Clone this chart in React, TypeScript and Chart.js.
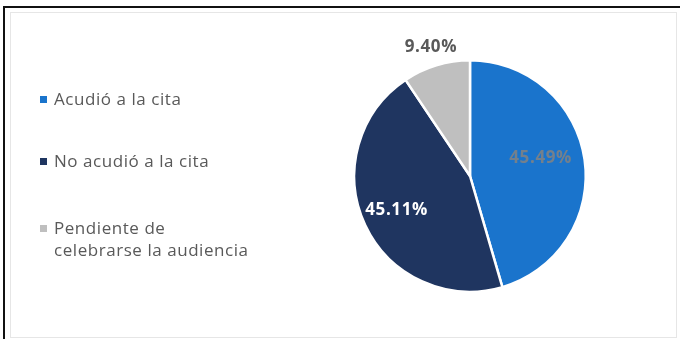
import React, { useEffect, useRef } from "react";
import { Chart, registerables } from "chart.js";

Chart.register(...registerables);

const categories = ["Acudió a la cita", "No acudió a la cita", "Pendiente de celebrarse la audiencia"];
const legendLines = [["Acudió a la cita"], ["No acudió a la cita"], ["Pendiente de", "celebrarse la audiencia"]];
const values = [45.49, 45.11, 9.4];
const valueLabels = ["45.49%", "45.11%", "9.40%"];
const colors = ["#1a74cc", "#1f3560", "#bfbfbf"];
const labelColors = ["#74808c", "#ffffff", "#595959"];
const labelRadius = [0.63, 0.7, 1.16];
const labelAngleShift = [-0.11, 0, 0];

const FONT = "'Open Sans', 'Noto Sans', sans-serif";

const labelPlugin = {
  id: "sliceLabels",
  afterDatasetsDraw(chart: any) {
    const ctx = chart.ctx;
    const meta = chart.getDatasetMeta(0);
    meta.data.forEach((arc: any, i: number) => {
      const { x, y, startAngle, endAngle, outerRadius } = arc.getProps(
        ["x", "y", "startAngle", "endAngle", "outerRadius"],
        true
      );
      const mid = (startAngle + endAngle) / 2 + labelAngleShift[i];
      const r = outerRadius * labelRadius[i];
      const lx = x + Math.cos(mid) * r;
      const ly = y + Math.sin(mid) * r;
      ctx.save();
      ctx.font = `bold 17px ${FONT}`;
      (ctx as any).letterSpacing = "0.6px";
      ctx.fillStyle = labelColors[i];
      ctx.textAlign = "center";
      ctx.textBaseline = "middle";
      ctx.fillText(valueLabels[i], lx, ly);
      ctx.restore();
    });
  },
};

export default function App() {
  const canvasRef = useRef<HTMLCanvasElement | null>(null);

  useEffect(() => {
    document.body.style.margin = "0";
    const chart = new Chart(canvasRef.current as HTMLCanvasElement, {
      type: "pie",
      data: {
        labels: categories,
        datasets: [
          {
            data: values,
            backgroundColor: colors,
            borderColor: "#ffffff",
            borderWidth: 2.5,
          },
        ],
      },
      options: {
        animation: false,
        responsive: false,
        maintainAspectRatio: false,
        layout: { padding: { left: 353, right: 93, top: 59, bottom: 46 } },
        plugins: {
          legend: { display: false },
          tooltip: { enabled: false },
        },
      },
      plugins: [labelPlugin],
    });
    return () => chart.destroy();
  }, []);

  return (
    <div style={{ position: "fixed", left: 0, top: 0, width: 680, height: 339, background: "#fff", overflow: "hidden" }}>
      <div style={{ position: "absolute", left: 3, top: 6, width: 677, height: 2, background: "#111" }} />
      <div style={{ position: "absolute", left: 3, top: 6, width: 2, height: 333, background: "#111" }} />
      <div
        style={{
          position: "absolute",
          left: 10,
          top: 12,
          width: 665,
          height: 324,
          border: "1px solid #e6e6e6",
        }}
      />
      <canvas ref={canvasRef} width={680} height={339} style={{ position: "absolute", left: 0, top: 0 }} />
      {legendLines.map((lines, i) => (
        <div
          key={i}
          style={{
            position: "absolute",
            left: 40,
            top: [88, 150, 217][i],
            fontFamily: FONT,
            fontSize: 17,
            letterSpacing: "0.55px",
            lineHeight: "22px",
            color: "#595959",
          }}
        >
          <span
            style={{
              position: "absolute",
              left: 0,
              top: 8,
              width: 7,
              height: 7,
              background: colors[i],
            }}
          />
          <div style={{ marginLeft: 14 }}>
            {lines.map((l, j) => (
              <div key={j} style={{ whiteSpace: "nowrap" }}>
                {l}
              </div>
            ))}
          </div>
        </div>
      ))}
    </div>
  );
}
